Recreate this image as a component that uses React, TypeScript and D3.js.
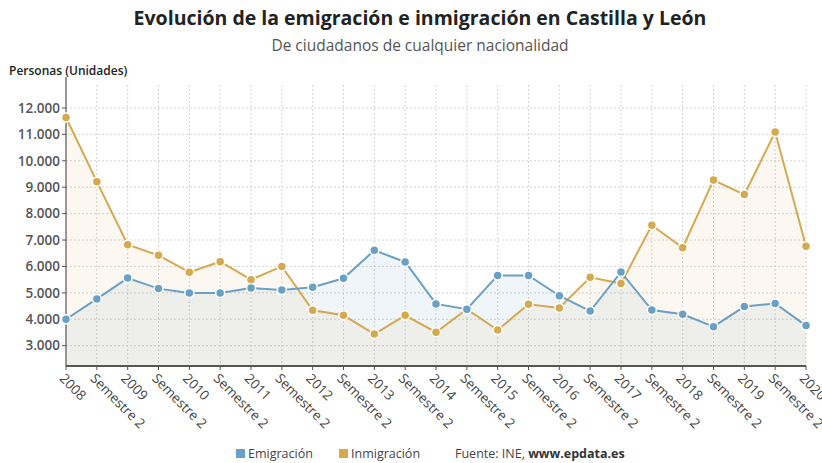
import { useEffect, useRef } from 'react';
import * as d3 from 'd3';

const years = ['2008', '2009', '2010', '2011', '2012', '2013', '2014', '2015', '2016', '2017', '2018', '2019', '2020'];
// every year is followed by its second half, except the last one
const categories: string[] = years.flatMap((y, i) => (i < years.length - 1 ? [y, 'Semestre 2'] : [y]));

const emigracion = [
  4000, 4770, 5560, 5160, 4990, 4990, 5180, 5110, 5210, 5550, 6610, 6170, 4580,
  4380, 5660, 5660, 4890, 4310, 5790, 4350, 4190, 3720, 4480, 4600, 3760,
];
const inmigracion = [
  11640, 9210, 6820, 6420, 5780, 6180, 5500, 6000, 4340, 4150, 3440, 4150, 3510,
  4380, 3590, 4570, 4430, 5590, 5350, 7560, 6710, 9270, 8720, 11090, 6760,
];
const yTicks = [3000, 4000, 5000, 6000, 7000, 8000, 9000, 10000, 11000, 12000];

const BLUE = '#6aa0c4';
const GOLD = '#d4a94f';

export default function App() {
  const svgRef = useRef<SVGSVGElement>(null);

  useEffect(() => {
    document.body.style.margin = '0';
    if (!svgRef.current) return;
    const width = 822;
    const height = 463;
    const margin = { top: 85, right: 16, bottom: 97, left: 66 };

    const svg = d3.select(svgRef.current);
    svg.selectAll('*').remove();
    svg.attr('width', width).attr('height', height).style('font-family', '"Open Sans", sans-serif');

    const x = d3
      .scalePoint<number>()
      .domain(d3.range(categories.length))
      .range([margin.left, width - margin.right]);
    const y = d3
      .scaleLinear()
      .domain([2230, 12870])
      .range([height - margin.bottom, margin.top]);

    const bottom = height - margin.bottom;

    // title block
    svg.append('text')
      .attr('x', 420).attr('y', 25)
      .attr('text-anchor', 'middle')
      .attr('font-size', 19.5).attr('font-weight', 700).attr('fill', '#222')
      .text('Evolución de la emigración e inmigración en Castilla y León');
    svg.append('text')
      .attr('x', 420).attr('y', 51)
      .attr('text-anchor', 'middle')
      .attr('font-size', 15.5).attr('fill', '#555')
      .text('De ciudadanos de cualquier nacionalidad');
    svg.append('text')
      .attr('x', 9).attr('y', 75)
      .attr('font-size', 12).attr('font-weight', 600).attr('fill', '#222')
      .text('Personas (Unidades)');

    // grid
    const grid = svg.append('g').attr('stroke', '#d4d4d4').attr('stroke-dasharray', '2,2');
    grid.selectAll('line.h')
      .data(yTicks)
      .join('line')
      .attr('x1', margin.left).attr('x2', width - margin.right)
      .attr('y1', d => y(d)).attr('y2', d => y(d));
    grid.selectAll('line.v')
      .data(d3.range(1, categories.length))
      .join('line')
      .attr('x1', d => x(d)!).attr('x2', d => x(d)!)
      .attr('y1', margin.top).attr('y2', bottom);

    // areas
    const area = d3.area<number>()
      .x((_, i) => x(i)!)
      .y0(bottom)
      .y1(d => y(d));
    svg.append('path').datum(emigracion).attr('d', area).attr('fill', BLUE).attr('fill-opacity', 0.1);
    svg.append('path').datum(inmigracion).attr('d', area).attr('fill', GOLD).attr('fill-opacity', 0.08);

    // axes
    svg.append('line')
      .attr('x1', margin.left).attr('x2', margin.left)
      .attr('y1', margin.top - 8).attr('y2', bottom)
      .attr('stroke', '#555').attr('stroke-width', 1.2);
    svg.append('line')
      .attr('x1', margin.left).attr('x2', width - margin.right)
      .attr('y1', bottom).attr('y2', bottom)
      .attr('stroke', '#555').attr('stroke-width', 2);
    svg.selectAll('line.xt')
      .data(d3.range(categories.length))
      .join('line')
      .attr('x1', d => x(d)!).attr('x2', d => x(d)!)
      .attr('y1', bottom).attr('y2', bottom + 4)
      .attr('stroke', '#555');
    svg.selectAll('line.yt')
      .data(yTicks)
      .join('line')
      .attr('x1', margin.left - 4).attr('x2', margin.left)
      .attr('y1', d => y(d)).attr('y2', d => y(d))
      .attr('stroke', '#555');

    svg.selectAll('text.yl')
      .data(yTicks)
      .join('text')
      .attr('x', margin.left - 6)
      .attr('y', d => y(d))
      .attr('dy', '0.35em')
      .attr('text-anchor', 'end')
      .attr('font-size', 13.5).attr('font-weight', 600).attr('fill', '#555')
      .text(d => d3.format(',')(d).replace(/,/g, '.'));

    svg.selectAll('text.xl')
      .data(categories)
      .join('text')
      .attr('transform', (_, i) => `translate(${x(i)! - 4},${bottom + 10}) rotate(45)`)
      .attr('font-size', 13.5).attr('fill', '#444')
      .attr('dy', '0.35em')
      .text(d => d);

    // lines + markers
    const line = d3.line<number>().x((_, i) => x(i)!).y(d => y(d));
    const series = [
      { values: inmigracion, color: GOLD },
      { values: emigracion, color: BLUE },
    ];
    series.forEach(s => {
      svg.append('path').datum(s.values).attr('d', line)
        .attr('fill', 'none').attr('stroke', s.color).attr('stroke-width', 2);
      svg.append('g').selectAll('circle')
        .data(s.values)
        .join('circle')
        .attr('cx', (_, i) => x(i)!)
        .attr('cy', d => y(d))
        .attr('r', 4.5)
        .attr('fill', s.color)
        .attr('stroke', '#fff').attr('stroke-width', 1.5);
    });

    // legend
    const lg = svg.append('g').attr('font-size', 12.5).attr('fill', '#444');
    lg.append('rect').attr('x', 236).attr('y', 449).attr('width', 9).attr('height', 9).attr('fill', BLUE);
    lg.append('text').attr('x', 248).attr('y', 458).text('Emigración');
    lg.append('rect').attr('x', 339).attr('y', 449).attr('width', 9).attr('height', 9).attr('fill', GOLD);
    lg.append('text').attr('x', 351).attr('y', 458).text('Inmigración');
    const src = lg.append('text').attr('x', 455).attr('y', 458);
    src.append('tspan').text('Fuente: INE, ');
    src.append('tspan').attr('font-weight', 700).attr('fill', '#333').text('www.epdata.es');
  }, []);

  return <svg ref={svgRef} style={{ display: 'block' }} />;
}
